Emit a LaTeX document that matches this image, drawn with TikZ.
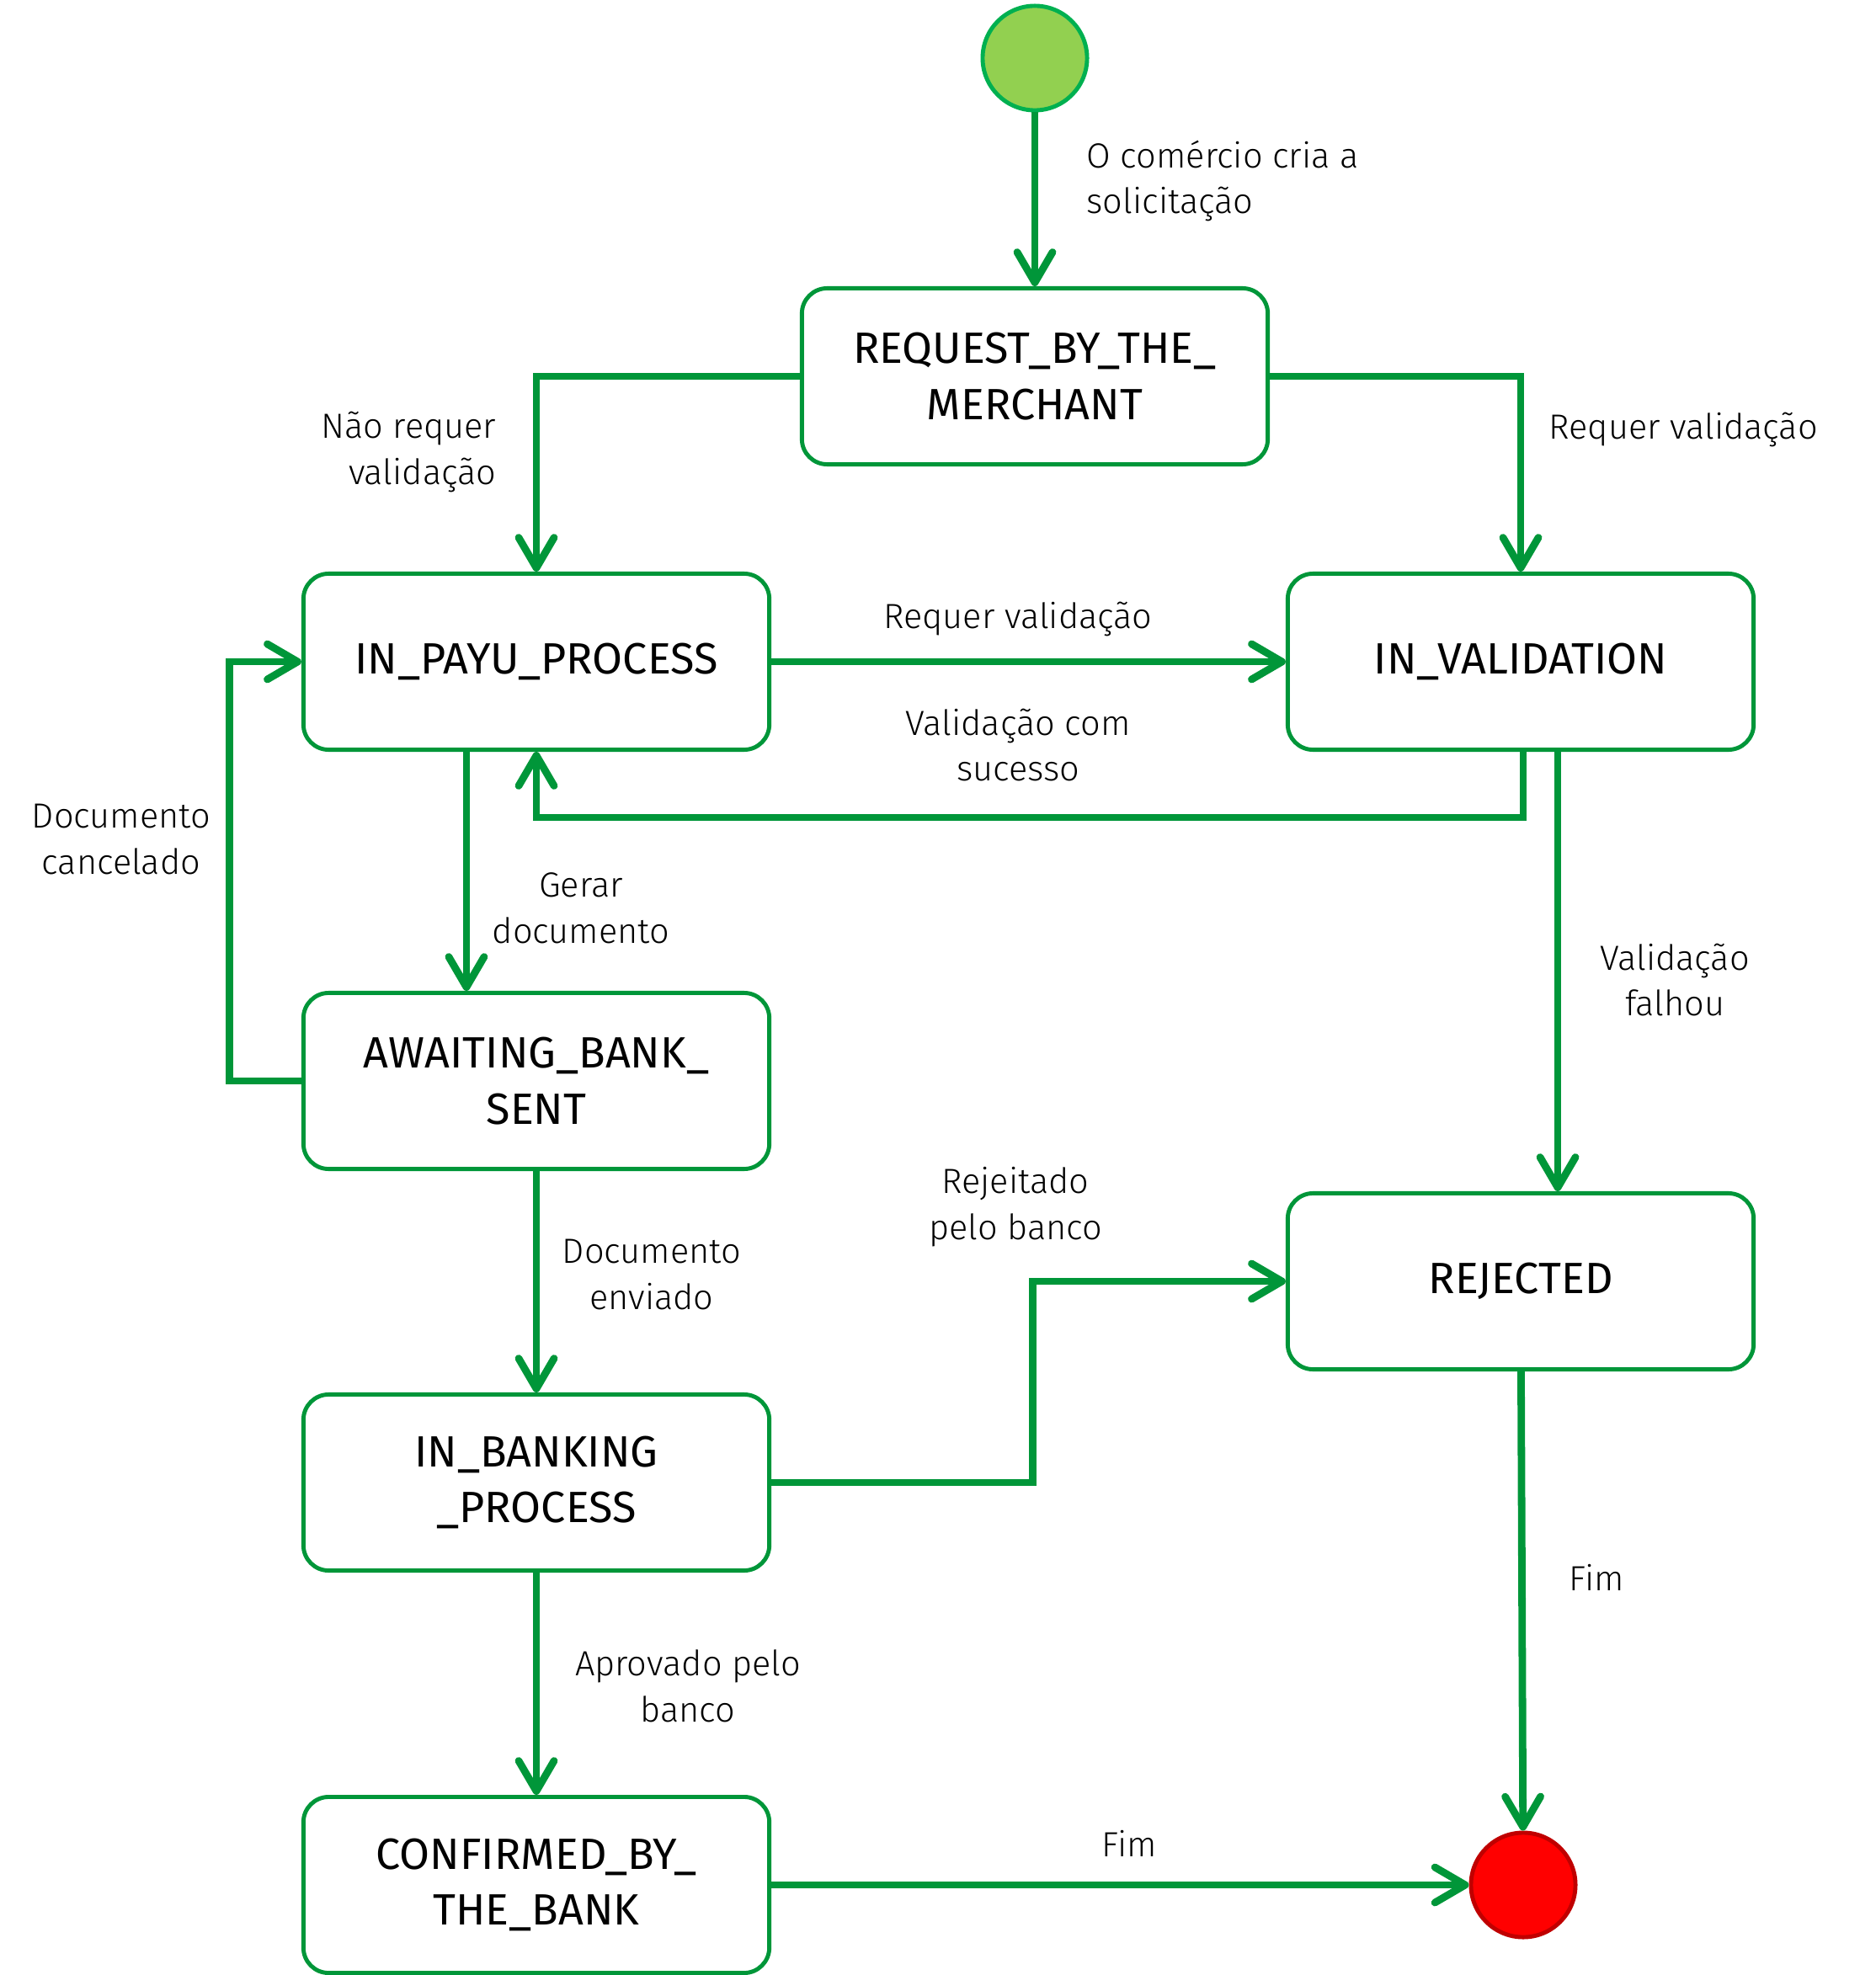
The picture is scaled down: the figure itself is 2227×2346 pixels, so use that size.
\documentclass[tikz,border=0pt]{standalone}
\usepackage{fontspec}
\setmainfont{Fira Sans}
\newfontfamily\thinfont{Fira Sans Light}
\usetikzlibrary{arrows.meta}

\definecolor{flowgreen}{RGB}{0,150,57}
\definecolor{startgreen}{RGB}{146,208,80}
\definecolor{startedge}{RGB}{0,176,80}
\definecolor{endred}{RGB}{255,0,0}
\definecolor{endedge}{RGB}{192,0,0}

\tikzset{
  state/.style={draw=flowgreen, line width=1.4pt, rounded corners=0.3cm,
    minimum width=5.53cm, minimum height=2.09cm, align=center,
    font=\fontsize{14.8}{19}\selectfont},
  flow/.style={draw=flowgreen, line width=2.5pt,
    -{Straight Barb[round, length=3.6mm, width=4.2mm]}},
  lbl/.style={font=\thinfont\fontsize{11.8}{15.6}\selectfont, inner sep=0pt}
}

\begin{document}
\begin{tikzpicture}[x=0.01cm, y=-0.01cm]
	\useasboundingbox (0,0) rectangle (2227,2346);
	% start and end
	\node[circle, draw=startedge, fill=startgreen, line width=1.4pt, minimum size=1.24cm, inner sep=0pt] (start) at (1229,69) {};
	\node[circle, draw=endedge, fill=endred, line width=1.4pt, minimum size=1.24cm, inner sep=0pt] (fim) at (1809,2239) {};
	% states
	\node[state] (req) at (1229,447) {REQUEST\_BY\_THE\_\\MERCHANT};
	\node[state] (payu) at (637,786) {IN\_PAYU\_PROCESS};
	\node[state] (valid) at (1806,786) {IN\_VALIDATION};
	\node[state] (await) at (637,1284) {AWAITING\_BANK\_\\SENT};
	\node[state] (rej) at (1806,1522) {REJECTED};
	\node[state] (bank) at (637,1761) {IN\_BANKING\\\_PROCESS};
	\node[state] (conf) at (637,2239) {CONFIRMED\_BY\_\\THE\_BANK};
	% transitions
	\draw[flow] (start) -- (req);
	\draw[flow] (req.west) -| (payu.north);
	\draw[flow] (req.east) -| (valid.north);
	\draw[flow] (payu.east) -- (valid.west);
	\draw[flow] ([xshift=0.03cm]valid.south) -- ++(0,78) -| (payu.south);
	\draw[flow] ([xshift=0.44cm]valid.south) -- ([xshift=0.44cm]rej.north);
	\draw[flow] ([xshift=-0.83cm]payu.south) -- ([xshift=-0.83cm]await.north);
	\draw[flow] (await.west) -- ++(-85,0) |- (payu.west);
	\draw[flow] (await) -- (bank);
	\draw[flow] (bank.east) -- ++(310,0) |- (rej.west);
	\draw[flow] (bank) -- (conf);
	\draw[flow] (rej) -- (fim);
	\draw[flow] (conf) -- (fim);
	% labels
	\node[lbl, anchor=west, align=left] (l1) at (1290,215) {O comércio cria a\\solicitação};
	\node[lbl, anchor=east, align=right] (l2) at (590,537) {Não requer\\validação};
	\node[lbl, anchor=west] (l3) at (1839,510) {Requer validação};
	\node[lbl] (l4) at (1209,735) {Requer validação};
	\node[lbl, align=center] (l5) at (1209,885) {Validação com\\sucesso};
	\node[lbl, align=center] (l6) at (144,997) {Documento\\cancelado};
	\node[lbl, align=center] (l7) at (690,1079) {Gerar\\documento};
	\node[lbl, align=center] (l8) at (1989,1164) {Validação\\falhou};
	\node[lbl, align=center] (l9) at (1206,1434) {Rejeitado\\pelo banco};
	\node[lbl, align=center] (l10) at (774,1514) {Documento\\enviado};
	\node[lbl] (l11) at (1896,1874) {Fim};
	\node[lbl, align=center] (l12) at (817,2003) {Aprovado pelo\\banco};
	\node[lbl] (l13) at (1341,2190) {Fim};
\end{tikzpicture}
\end{document}
